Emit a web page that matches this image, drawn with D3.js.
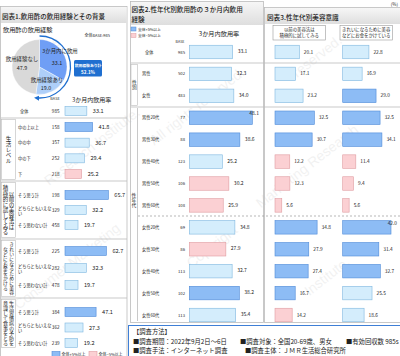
<!DOCTYPE html>
<html><head><meta charset="utf-8">
<script src="https://cdn.jsdelivr.net/npm/d3@7"></script>
<style>body{margin:0;background:#fff}svg{display:block}text{font-family:"Noto Sans CJK JP","Noto Sans",sans-serif}</style>
</head><body><svg width="400" height="356"></svg>
<script>
// ---------- DATA ----------
const pieLabels = ["3か月内に飲用", "飲用経験あり", "飲用経験なし"];
const pieValues = [33.1, 19.0, 47.9];
const pieTotalLabel = "飲用経験あり計";
const pieTotalValue = "52.1%";

const leftGroupCols = [[], ["生活レベル"], ["以前の美容法は", "積極的に試してみる"], ["きれいになるために美容", "などにお金をかける"], ["生活習慣病の予防を", "意識して食事をとる"]];
const leftRows = ["全体", "中の上以上", "中の中", "中の下", "下", "そう思う計", "どちらともいえない", "そう思わない計", "そう思う計", "どちらともいえない", "そう思わない計", "そう思う計", "どちらともいえない", "そう思わない計"];
const leftRowGroup = [0, 1, 1, 1, 1, 2, 2, 2, 3, 3, 3, 4, 4, 4];
const leftBase = [985, 158, 357, 252, 218, 198, 329, 458, 225, 282, 478, 384, 362, 239];
const leftRate = [33.1, 41.8, 36.7, 29.4, 25.2, 65.7, 32.2, 19.7, 62.7, 32.3, 19.7, 47.1, 27.3, 19.2];
const leftFlag = ["n", "u", "n", "n", "d", "u", "n", "n", "u", "n", "n", "u", "n", "n"];

const midRows = ["全体", "男性", "女性", "男性20代", "男性30代", "男性40代", "男性50代", "男性60代", "女性20代", "女性30代", "女性40代", "女性50代", "女性60代"];
const midBase = [985, 502, 483, 77, 88, 123, 106, 108, 69, 86, 113, 102, 113];
const midRate = [33.1, 32.3, 34.0, 48.1, 38.6, 25.2, 30.2, 25.9, 34.8, 27.9, 32.7, 38.2, 35.4];
const midFlag = ["n", "n", "n", "u", "u", "n", "d", "d", "n", "d", "n", "u", "n"];

const beautyHeaders = [["以前の美容法は", "積極的に試してみる"], ["きれいになるために美容", "などにお金をかけている"]];
const beauty1 = [20.1, 17.1, 23.2, 32.5, 30.7, 12.2, 12.3, 5.6, 34.8, 27.9, 27.4, 16.7, 14.2];
const beauty1Flag = ["n", "n", "n", "u", "u", "d", "d", "d", "u", "u", "u", "u", "d"];
const beauty2 = [22.8, 16.9, 29.0, 32.5, 34.1, 11.4, 9.4, 5.6, 42.0, 31.4, 32.7, 25.5, 18.6];
const beauty2Flag = ["n", "n", "u", "u", "u", "d", "d", "d", "u", "u", "u", "n", "n"];

const legendLabels = ["全体+5%以上", "全体−5%以上"];
const methodTitle = "【調査方法】";
const methodRow1 = ["■調査期間：2022年9月2日～6日", "■調査対象：全国20-69歳、男女", "■有効回収数 985s"];
const methodRow2 = ["■調査手法：インターネット調査", "■調査主体：ＪＭＲ生活総合研究所"];
const watermarkParts = ["Consumer Marketing", "Research Institute.", "All rights reserved.", "Copyright", "Marketing Research", "Institute.", "All rights", "reserved."];

// ---------- DRAW ----------
const svg = d3.select("svg");
const fillC = {u: "#8dbcf5", n: "#d4edfc", d: "#fbd0d3"};
const strokeC = {u: "#4f8ad8", n: "#7fb7df", d: "#df9ca1"};
const ink = "#222";

function T(x, y, s, size, o = {}) {
  return svg.append("text").attr("x", x).attr("y", y).text(s)
    .attr("font-size", size).attr("fill", o.fill || ink)
    .attr("text-anchor", o.anchor || "start")
    .attr("font-weight", o.weight || 400);
}
function VT(x, y, s, size) {
  return svg.append("text").attr("x", x).attr("y", y).text(s)
    .attr("font-size", size).attr("fill", ink)
    .attr("text-anchor", "middle")
    .style("writing-mode", "vertical-rl");
}

// watermark (faint diagonal fragments)
const wmPos = [[70, 270], [95, 150], [200, 110], [215, 250], [310, 170], [330, 280], [40, 60], [320, 60]];
watermarkParts.forEach((s, i) => {
  svg.append("text").attr("transform", `translate(${wmPos[i][0]},${wmPos[i][1]}) rotate(-38)`)
    .attr("text-anchor", "middle").text(s).attr("font-size", 14).attr("fill", "#000").attr("opacity", 0.05)
    .style("font-family", "Arial, sans-serif");
});

const defs = svg.append("defs");
const grad = defs.append("linearGradient").attr("id", "tg").attr("x1", 0).attr("y1", 0).attr("x2", 0).attr("y2", 1);
grad.append("stop").attr("offset", 0).attr("stop-color", "#f6f6f6");
grad.append("stop").attr("offset", 1).attr("stop-color", "#dedede");
defs.append("marker").attr("id", "arr").attr("viewBox", "0 0 10 10")
  .attr("refX", 5).attr("refY", 5).attr("markerWidth", 4).attr("markerHeight", 4).attr("orient", "auto")
  .append("path").attr("d", "M0,0L10,5L0,10z").attr("fill", "#1f6fd0");

// panels
svg.append("rect").attr("x", 0.5).attr("y", 6.5).attr("width", 126.5).attr("height", 352).attr("fill", "none").attr("stroke", "#bbb").attr("stroke-width", 0.8);
svg.append("rect").attr("x", 130.5).attr("y", 1.5).attr("width", 133).attr("height", 321).attr("fill", "none").attr("stroke", "#bbb").attr("stroke-width", 0.8);
svg.append("rect").attr("x", 264.5).attr("y", 7.5).attr("width", 136).attr("height", 315).attr("fill", "none").attr("stroke", "#bbb").attr("stroke-width", 0.8);

// titles
svg.append("rect").attr("x", 1).attr("y", 7).attr("width", 125.5).attr("height", 16).attr("fill", "url(#tg)");
T(2, 18.5, "図表1.飲用酢の飲用経験とその背景", 6.5, {weight: 500});
svg.append("rect").attr("x", 131).attr("y", 2).attr("width", 132).attr("height", 23).attr("fill", "url(#tg)");
T(131.5, 11.5, "図表2.性年代別飲用酢の３か月内飲用", 6.6, {weight: 500});
T(131.5, 21.5, "経験", 6.6, {weight: 500});
svg.append("rect").attr("x", 265).attr("y", 8).attr("width", 135).attr("height", 16).attr("fill", "url(#tg)");
T(267, 19.5, "図表3.性年代別美容意識", 6.6, {weight: 500});
T(398, 6, "(%)", 4.5, {anchor: "end"});

// ---- pie ----
const cx = 39.5, cy = 67, R = 27.5;
const pieCols = ["#6f9ef5", "#aecff9", "#d9d9d9"];
const arcs = d3.pie().sort(null)(pieValues);
const arcGen = d3.arc().innerRadius(0).outerRadius(R);
svg.append("g").attr("transform", `translate(${cx},${cy})`).selectAll("path").data(arcs).join("path")
  .attr("d", arcGen).attr("fill", (d, i) => pieCols[i]).attr("stroke", "#fff").attr("stroke-width", 0.4);
const endA = arcs[1].endAngle;
const p = d3.path();
p.arc(cx, cy, 31, -Math.PI / 2, endA - Math.PI / 2 - 0.04, false);
svg.append("path").attr("d", p.toString()).attr("fill", "none").attr("stroke", "#1f6fd0").attr("stroke-width", 1.3).attr("marker-end", "url(#arr)");
T(3, 32, "飲用酢の飲用経験", 6.2);
T(110, 37, "全体BASE:985", 4, {anchor: "end"});
T(60, 53, pieLabels[0], 5.4, {anchor: "middle"});
T(57, 64.5, pieValues[0].toFixed(1), 5.4, {anchor: "middle"});
T(47, 82, pieLabels[1], 5.4, {anchor: "middle"});
T(46, 90, pieValues[1].toFixed(1), 5.4, {anchor: "middle"});
T(22, 61, pieLabels[2], 5.4, {anchor: "middle"});
T(22, 70, pieValues[2].toFixed(1), 5.4, {anchor: "middle"});
svg.append("rect").attr("x", 74).attr("y", 60).attr("width", 28).attr("height", 16.5).attr("rx", 1.5).attr("fill", "#1f6fd0");
T(88, 67, pieTotalLabel, 3.8, {anchor: "middle", fill: "#fff", weight: 700});
T(88, 74, pieTotalValue, 4.6, {anchor: "middle", fill: "#fff", weight: 700});

// ---- left bar table ----
const xL = d3.scaleLinear().domain([0, 100]).range([0, 66]);
const x0L = 65;
const groupRange = [[111, 111], [127, 174], [195, 225], [251, 285], [312, 343]];
const groupSpan = [[104, 118], [118, 181], [181, 239], [239, 298], [298, 349]];
const leftY = leftRows.map((r, i) => {
  const g = leftRowGroup[i];
  const members = leftRowGroup.map((gg, j) => gg === g ? j : -1).filter(j => j >= 0);
  const sc = d3.scalePoint().domain(members).range(groupRange[g]);
  return sc(i);
});
T(55, 100, "BASE", 3.8, {anchor: "middle"});
T(72, 102, "3か月内飲用率", 6);
[118, 181, 239, 298].forEach(y => svg.append("line").attr("x1", 1).attr("x2", 127).attr("y1", y).attr("y2", y).attr("stroke", "#bbb").attr("stroke-width", 0.8));
for (let g = 1; g < 5; g++) {
  const [a, b] = groupSpan[g];
  svg.append("rect").attr("x", 1.5).attr("y", a + 1.5).attr("width", 14).attr("height", b - a - 3).attr("fill", "none").attr("stroke", "#bbb").attr("stroke-width", 0.6);
  const cols = leftGroupCols[g];
  const maxC = d3.max(cols, c => c.length);
  const fs = Math.min(5.5, (b - a - 6) / maxC);
  const mid = (a + b) / 2;
  if (cols.length === 1) VT(8.5, mid, cols[0], fs);
  else { VT(11.6, mid, cols[0], fs); VT(5.4, mid, cols[1], fs); }
}
leftRows.forEach((r, i) => {
  const y = leftY[i];
  if (r === "どちらともいえない") {
    T(18, y - 0.5, "どちらともいえな", 4.2);
    T(18, y + 4.8, "い", 4.2);
  } else T(i === 0 ? 20 : 18, y + 1.5, r, 4.2);
  T(59.5, y + 1.7, leftBase[i], 4.6, {anchor: "end"});
  svg.append("rect").attr("x", x0L).attr("y", y - 4.5).attr("width", xL(leftRate[i])).attr("height", 9)
    .attr("fill", fillC[leftFlag[i]]).attr("stroke", strokeC[leftFlag[i]]).attr("stroke-width", 0.6);
  T(x0L + xL(leftRate[i]) + 6, y + 2, leftRate[i].toFixed(1), 5.6);
});
// left legend
legendLabels.forEach((s, i) => {
  const lx = 52 + i * 37;
  svg.append("rect").attr("x", lx).attr("y", 351.5).attr("width", 8).attr("height", 5).attr("fill", i ? fillC.d : fillC.u).attr("stroke", i ? strokeC.d : strokeC.u).attr("stroke-width", 0.6);
  T(lx + 9.5, 356, s, 4);
});

// ---- middle panel ----
const yM = d3.scalePoint().domain(midRows).range([52, 315]);
const xM = d3.scaleLinear().domain([0, 100]).range([0, 131]);
const x0M = 189.3;
legendLabels.forEach((s, i) => {
  svg.append("rect").attr("x", 131).attr("y", 27 + i * 6.5).attr("width", 5).attr("height", 4).attr("fill", i ? fillC.d : fillC.u).attr("stroke", i ? strokeC.d : strokeC.u).attr("stroke-width", 0.5);
  T(138, 30.6 + i * 6.5, s, 3.8);
});
T(219, 36, "3か月内飲用率", 6.2, {anchor: "middle"});
T(180, 43, "BASE", 3.6, {anchor: "middle"});
[63, 107].forEach(y => svg.append("line").attr("x1", 131).attr("x2", 400).attr("y1", y).attr("y2", y).attr("stroke", "#bbb").attr("stroke-width", 0.8));
svg.append("line").attr("x1", 138).attr("x2", 400).attr("y1", 216).attr("y2", 216).attr("stroke", "#999").attr("stroke-width", 0.7).attr("stroke-dasharray", "2,2");
svg.append("rect").attr("x", 131).attr("y", 64.5).attr("width", 6.5).attr("height", 41).attr("fill", "none").attr("stroke", "#bbb").attr("stroke-width", 0.6);
VT(134.3, 85, "性別", 4.8);
svg.append("line").attr("x1", 137.5).attr("x2", 137.5).attr("y1", 108).attr("y2", 321).attr("stroke", "#bbb").attr("stroke-width", 0.8);
VT(134, 200, "性年代", 4.8);
midRows.forEach((r, i) => {
  const y = yM(r);
  T(i === 0 ? 145 : 142, y + 1.5, r, 4.2);
  T(185, y + 1.5, midBase[i], 4.2, {anchor: "end"});
  svg.append("rect").attr("x", x0M).attr("y", y - 6.75).attr("width", xM(midRate[i])).attr("height", 13.5)
    .attr("fill", fillC[midFlag[i]]).attr("stroke", strokeC[midFlag[i]]).attr("stroke-width", 0.6);
  const ex = x0M + xM(midRate[i]);
  T(ex > 245 ? ex - 3 : ex + 5, y + 1.2 - (ex > 245 ? 3.5 : 0), midRate[i].toFixed(1), 5);
});

// ---- right panel ----
const xB1 = d3.scaleLinear().domain([0, 100]).range([0, 121]);
const xB2 = d3.scaleLinear().domain([0, 100]).range([0, 115]);
const cols = [{x0: 275, sc: xB1, v: beauty1, f: beauty1Flag, hx: 273}, {x0: 342.7, sc: xB2, v: beauty2, f: beauty2Flag, hx: 340}];
cols.forEach((c, k) => {
  svg.append("rect").attr("x", c.hx).attr("y", 25.5).attr("width", 52.5).attr("height", 14.5).attr("fill", "#fff").attr("stroke", "#999").attr("stroke-width", 0.6);
  T(c.hx + 26.25, 31.3, beautyHeaders[k][0], 4.4, {anchor: "middle"});
  T(c.hx + 26.25, 37.3, beautyHeaders[k][1], 4.4, {anchor: "middle"});
  midRows.forEach((r, i) => {
    const y = yM(r);
    const w = c.sc(c.v[i]);
    svg.append("rect").attr("x", c.x0).attr("y", y - 6.75).attr("width", w).attr("height", 13.5)
      .attr("fill", fillC[c.f[i]]).attr("stroke", strokeC[c.f[i]]).attr("stroke-width", 0.6);
    const ex = c.x0 + w + 4.5;
    if (ex + 10 > 398) T(397, y - 2, c.v[i].toFixed(1), 4.8, {anchor: "end"});
    else T(ex, y + 1.5, c.v[i].toFixed(1), 4.8);
  });
});

// ---- method box ----
svg.append("rect").attr("x", 128.5).attr("y", 325.5).attr("width", 273).attr("height", 32).attr("fill", "#fff").attr("stroke", "#3f7fd6").attr("stroke-width", 1);
T(133, 334, methodTitle, 6.3);
[133, 240, 346].forEach((x, i) => T(x, 343.5, methodRow1[i], 6.3));
[133, 245].forEach((x, i) => T(x, 352.5, methodRow2[i], 6.3));
</script></body></html>
